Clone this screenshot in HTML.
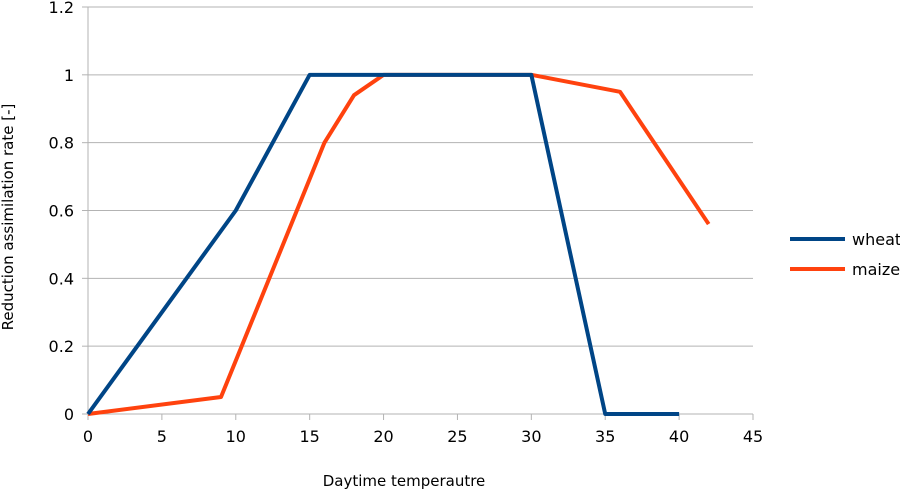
<!DOCTYPE html>
<html><head><meta charset="utf-8"><style>
html,body{margin:0;padding:0;background:#fff;}
svg{display:block;font-family:"DejaVu Sans","Liberation Sans",sans-serif;}
</style></head><body>
<svg id="chart" width="900" height="491" viewBox="0 0 900 491" xmlns="http://www.w3.org/2000/svg">
<g id="grid"></g>
<g id="axes"></g>
<g id="series"></g>
<text x="404" y="486" font-size="15" text-anchor="middle" fill="#000">Daytime temperautre</text>
<text transform="translate(13,217) rotate(-90)" font-size="15" text-anchor="middle" fill="#000">Reduction assimilation rate [-]</text>
<g>
<line x1="790" y1="239" x2="845" y2="239" stroke="#004586" stroke-width="4"/>
<text x="852" y="245" font-size="16">wheat</text>
<line x1="790" y1="269" x2="845" y2="269" stroke="#ff420e" stroke-width="4"/>
<text x="852" y="275" font-size="16">maize</text>
</g>
</svg>
<script>
const xTicks = [0,5,10,15,20,25,30,35,40,45];
const yTicks = [0,0.2,0.4,0.6,0.8,1,1.2];
const yTickLabels = ["0","0.2","0.4","0.6","0.8","1","1.2"];
const wheatX = [0,10,15,30,35,40];
const wheatY = [0,0.6,1,1,0,0];
const maizeX = [0,9,16,18,20,30,36,42];
const maizeY = [0,0.05,0.8,0.94,1,1,0.95,0.56];

const X0=88, X1=753, Y0=414, Y1=7;
const sx = v => X0 + (v-0)/(45-0)*(X1-X0);
const sy = v => Y0 - (v-0)/(1.2-0)*(Y0-Y1);
const NS="http://www.w3.org/2000/svg";
function mk(tag, attrs, parent){const e=document.createElementNS(NS,tag);for(const k in attrs)e.setAttribute(k,attrs[k]);parent.appendChild(e);return e;}
const grid=document.getElementById('grid'), axes=document.getElementById('axes'), series=document.getElementById('series');
yTicks.forEach((t,i)=>{
  const y=sy(t);
  const l=mk('line',{x1:X0,x2:X1,y1:y,y2:y,stroke:'#b3b3b3','stroke-width':1},grid);
  
  
  const tk=mk('line',{x1:X0-6,x2:X0,y1:y,y2:y,stroke:'#b3b3b3'},axes);
  
  
  const tx=mk('text',{x:X0-14,y:y+6,'font-size':16,'text-anchor':'end'},axes);
  tx.textContent=yTickLabels[i];
  
  
});
xTicks.forEach(t=>{
  const x=sx(t);
  const tk=mk('line',{x1:x,x2:x,y1:Y0,y2:Y0+6,stroke:'#b3b3b3'},axes);
  
  
  const tx=mk('text',{x:x,y:Y0+28,'font-size':16,'text-anchor':'middle'},axes);
  tx.textContent=String(t);
  
  
});
const ya=mk('line',{x1:X0,x2:X0,y1:Y1,y2:Y0,stroke:'#b3b3b3'},axes);


const xa=mk('line',{x1:X0,x2:X1,y1:Y0,y2:Y0,stroke:'#b3b3b3'},axes);


function drawLine(xs,ys,color,name){
  const pts=xs.map((x,i)=>sx(x)+','+sy(ys[i])).join(' ');
  const p=mk('polyline',{points:pts,fill:'none',stroke:color,'stroke-width':4,'stroke-linejoin':'round'},series);
  
  
}
drawLine(maizeX,maizeY,'#ff420e','maize-line');
drawLine(wheatX,wheatY,'#004586','wheat-line');
</script>
</body></html>
